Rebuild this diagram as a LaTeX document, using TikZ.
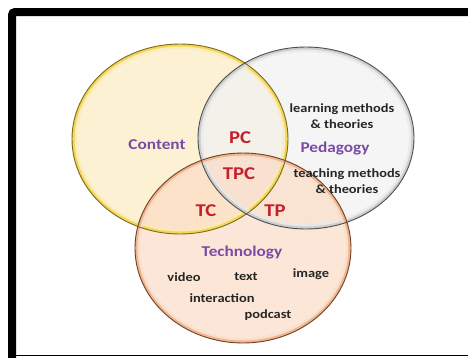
\documentclass[tikz,border=0pt]{standalone}
\usepackage{fontspec}
\newfontfamily\vennfont[FakeStretch=1.15]{Carlito}
\definecolor{cntfill}{HTML}{FBEFCB}
\definecolor{cntband}{HTML}{F3D558}
\definecolor{cntedge}{HTML}{7C6A1E}
\definecolor{pedfill}{HTML}{F1F1F1}
\definecolor{pedband}{HTML}{CDCDCD}
\definecolor{pededge}{HTML}{4F4F4F}
\definecolor{tecfill}{HTML}{FBDCC6}
\definecolor{tecband}{HTML}{F1B68E}
\definecolor{tecedge}{HTML}{6E4028}
\definecolor{ttlpurple}{HTML}{7A4BA6}
\definecolor{mixred}{HTML}{C41F2A}
\definecolor{itemgray}{HTML}{262626}

\begin{document}
\begin{tikzpicture}[x=1pt, y=-1pt,
    every node/.style={font=\vennfont\bfseries, inner sep=0pt},
    ttl/.style={ttlpurple, font=\vennfont\bfseries\fontsize{15}{17}\selectfont},
    mix/.style={mixred, font=\vennfont\bfseries\fontsize{18}{20}\selectfont},
    item/.style={itemgray, align=center, font=\vennfont\bfseries\fontsize{12.5}{16}\selectfont}]
    \useasboundingbox (0,0) rectangle (468,357);

    % Frame
    \draw[line width=8pt, rounded corners=3pt] (12,362) -- (12,12) -- (474,12);
    \draw[line width=1.5pt] (16,355.5) -- (470,355.5);

    % Circle fills
    \fill[cntfill, fill opacity=0.85] (180,139) ellipse (108pt and 95pt);
    \fill[pedfill, fill opacity=0.75] (306,138) ellipse (108pt and 91pt);
    \fill[tecfill, fill opacity=0.7] (243,248) ellipse (108pt and 95pt);

    % Inner rims
    \foreach \cx/\cy/\ry/\rim in {180/139/95/cntband, 306/138/91/pedband, 243/248/95/tecband} {
        \begin{scope}
            \clip (\cx,\cy) ellipse (108pt and \ry pt);
            \draw[\rim!45, line width=10pt, opacity=0.8] (\cx,\cy) ellipse (108pt and \ry pt);
            \draw[\rim, line width=5pt] (\cx,\cy) ellipse (108pt and \ry pt);
        \end{scope}
    }

    % Outlines
    \draw[cntedge, line width=0.9pt] (180,139) ellipse (108pt and 95pt);
    \draw[pededge, line width=0.9pt] (306,138) ellipse (108pt and 91pt);
    \draw[tecedge, line width=0.9pt] (243,248) ellipse (108pt and 95pt);

    % Knowledge areas
    \node[ttl] (content) at (157,145) {Content};
    \node[ttl] (pedagogy) at (335,149) {Pedagogy};
    \node[ttl] (technology) at (242,252) {Technology};

    % Overlaps
    \node[mix] (pc) at (240,138) {PC};
    \node[mix] (tpc) at (239,174) {TPC};
    \node[mix] (tc) at (206,211) {TC};
    \node[mix] (tp) at (275,211) {TP};

    % Pedagogy items
    \node[item] (learn) at (342,116) {learning methods\\ \& theories};
    \node[item] (teach) at (347,181) {teaching methods\\ \& theories};

    % Technology items
    \node[item] (video) at (184,277) {video};
    \node[item] (text) at (246,277) {text};
    \node[item] (image) at (311,274) {image};
    \node[item] (interact) at (222,298) {interaction};
    \node[item] (podcast) at (268,315) {podcast};
\end{tikzpicture}
\end{document}
